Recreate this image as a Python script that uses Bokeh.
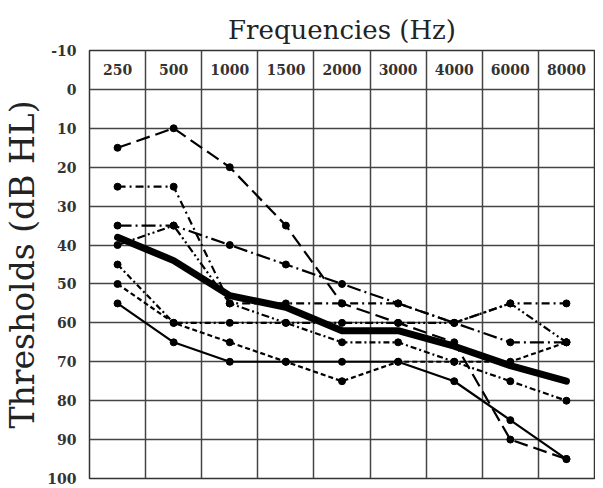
from bokeh.plotting import figure
from bokeh.models import Range1d, FixedTicker, ColumnDataSource
from bokeh.core.properties import value
from bokeh.embed import file_html
from bokeh.resources import INLINE

freqs = ["250", "500", "1000", "1500", "2000", "3000", "4000", "6000", "8000"]
y_ticks = [-10, 0, 10, 20, 30, 40, 50, 60, 70, 80, 90, 100]

s_solid = [55, 65, 70, 70, 70, 70, 75, 85, 95]
s_short = [50, 60, 65, 70, 75, 70, 70, 70, 65]
s_long = [15, 10, 20, 35, 55, 60, 65, 90, 95]
s_dashdot = [25, 25, 55, 55, 55, 55, 60, 55, 55]
s_longdashdot = [35, 35, 40, 45, 50, 55, 60, 65, 65]
s_dashdotdot = [40, 35, 55, 60, 60, 60, 60, 55, 65]
s_dashdot2 = [45, 60, 60, 60, 65, 65, 70, 75, 80]
mean = [38, 44, 53, 56, 62, 62, 66, 71, 75]

series = [
    (s_solid, "solid"),
    (s_short, "5 3"),
    (s_long, "14 6"),
    (s_dashdot, "8 4 2 4"),
    (s_longdashdot, "14 4 2 4"),
    (s_dashdotdot, "8 3 2 3 2 3"),
    (s_dashdot2, "6 3 2 3"),
]

SERIF = "DejaVu Serif"
x = list(range(len(freqs)))

p = figure(width=595, height=486, output_backend="svg", toolbar_location=None,
           x_range=Range1d(-0.5, len(freqs) - 0.5), y_range=Range1d(100, -10),
           min_border_left=78, min_border_right=1, min_border_top=50, min_border_bottom=8)
p.background_fill_color = "white"
p.border_fill_color = "white"
p.outline_line_color = "#333333"
p.outline_line_width = 1.5

p.title.text = "Frequencies (Hz)"
p.title.align = "center"
p.title.text_font = SERIF
p.title.text_font_style = "normal"
p.title.text_font_size = "26px"
p.title.text_color = "#222222"
p.title.standoff = 12

p.xaxis.visible = False
p.xgrid.ticker = FixedTicker(ticks=[i - 0.5 for i in range(len(freqs) + 1)])
p.xgrid.grid_line_color = "#444444"
p.xgrid.grid_line_width = 1.5
p.xgrid.grid_line_alpha = 1.0

yax = p.yaxis[0]
yax.ticker = FixedTicker(ticks=y_ticks)
yax.major_label_overrides = {t: str(t) for t in y_ticks}
yax.axis_line_color = None
yax.major_tick_line_color = None
yax.minor_tick_line_color = None
yax.major_label_text_font = SERIF
yax.major_label_text_font_style = "bold"
yax.major_label_text_font_size = "14px"
yax.major_label_text_color = "#333333"
yax.major_label_standoff = 7
yax.axis_label = "Thresholds (dB HL)"
yax.axis_label_text_font = SERIF
yax.axis_label_text_font_style = "normal"
yax.axis_label_text_font_size = "33px"
yax.axis_label_text_color = "#222222"
yax.axis_label_standoff = 2
p.ygrid.ticker = FixedTicker(ticks=y_ticks)
p.ygrid.grid_line_color = "#444444"
p.ygrid.grid_line_width = 1.5
p.ygrid.grid_line_alpha = 1.0

# frequency labels inside the top row
src = ColumnDataSource(dict(x=x, y=[-5] * len(freqs), t=freqs))
p.text(x="x", y="y", text="t", source=src, text_align="center", text_baseline="middle",
       text_font=value(SERIF), text_font_style="bold", text_font_size="14px", text_color="#333333")

for vals, dash in series:
    p.line(x, vals, line_color="black", line_width=2.2, line_dash=dash)
    p.scatter(x, vals, size=7, color="black")

p.line(x, mean, line_color="black", line_width=7, line_join="round", line_cap="round")

open("out.html", "w").write(file_html(p, INLINE))
